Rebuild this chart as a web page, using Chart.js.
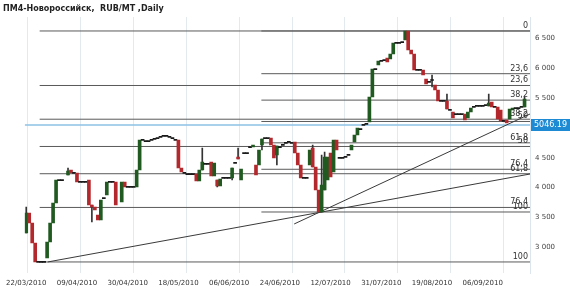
<!DOCTYPE html>
<html>
<head>
<meta charset="utf-8">
<script src="https://cdn.jsdelivr.net/npm/chart.js@4.4.1/dist/chart.umd.min.js"></script>
<style>
  html, body { margin: 0; padding: 0; background: #fff; }
  canvas { display: block; }
</style>
</head>
<body>
<canvas id="chart" width="570" height="293"></canvas>
<script>
const title = 'ПМ4-Новороссийск,  RUB/MT ,Daily';

// x axis: one slot per trading bar, date labels every 17 bars
const dateLabels = ['22/03/2010', '09/04/2010', '30/04/2010', '18/05/2010', '06/06/2010',
                    '24/06/2010', '12/07/2010', '31/07/2010', '19/08/2010', '06/09/2010'];
const dateIdx = [0, 17, 34, 51, 68, 85, 102, 119, 136, 153];
const yTicks = [3000, 3500, 4000, 4500, 5000, 5500, 6000, 6500];

// candles (null = no bar)
const opens = [
  3245, 3578, 3412, 3078, 2762, 2762, 2762, 2828, 3095, 3412,
  3745, 4128, 4128, null, 4212, 4295, 4245, 4245, 4095, 4095,
  4095, 4128, 3712, 3678, 3545, 3462, 3828, 3878, 4095, 4095,
  4095, null, 3762, 4095, 4012, 4012, 4012, 4012, 4295, 4795,
  4778, 4778, 4795, 4812, 4828, 4845, 4862, 4862, 4845, 4828,
  4795, 4795, 4328, 4245, 4228, 4228, 4228, 4228, 4112, 4295,
  4395, 4395, 4428, 4195, 4128, 4028, 4162, 4162, 4162, 4162,
  4412, 4512, 4128, 4578, 4578, 4678, 4678, 4378, 4378, 4712,
  4828, 4828, 4828, 4712, 4545, 4678, 4712, 4745, 4762, 4745,
  4762, 4578, 4378, 4162, 4162, 4378, 4662, 4345, 3962, 3595,
  3962, 4128, 4578, 4262, 4795, 4495, 4495, 4512, 4545, 4628,
  4762, 4878, 4978, 5045, 5062, 5095, 5512, 5978, 6045, 6112,
  6128, 6162, 6145, 6228, 6412, 6412, 6428, 6462, 6612, 6295,
  6228, 5962, 5962, 5962, 5812, 5762, 5795, 5712, 5628, 5445,
  5445, 5445, 5295, 5262, 5228, 5228, 5228, 5228, 5162, 5262,
  5345, 5362, 5362, 5362, 5378, 5362, 5428, 5345, 5345, 5295,
  5112, 5128, 5145, 5295, 5328, 5328, 5345, 5345
];
const closes = [
  3578, 3412, 3078, 2762, 2762, 2762, 2762, 3095, 3412, 3745,
  4128, 4128, 4128, null, 4278, 4245, 4245, 4095, 4095, 4095,
  4095, 3712, 3678, 3628, 3462, 3795, 3828, 4095, 4095, 4095,
  3712, null, 4095, 4012, 4012, 4012, 4012, 4295, 4795, 4795,
  4778, 4778, 4795, 4812, 4828, 4845, 4862, 4862, 4845, 4828,
  4795, 4328, 4262, 4245, 4228, 4228, 4228, 4112, 4295, 4428,
  4395, 4395, 4195, 4412, 4028, 4145, 4162, 4162, 4162, 4328,
  4412, 4478, 4312, 4578, 4578, 4678, 4712, 4212, 4628, 4812,
  4828, 4828, 4712, 4495, 4695, 4678, 4712, 4745, 4762, 4745,
  4578, 4378, 4162, 4162, 4162, 4628, 4345, 3962, 3595, 4045,
  4512, 4512, 4178, 4795, 4628, 4495, 4495, 4512, 4545, 4712,
  4878, 4995, 4978, 5045, 5062, 5512, 5978, 5978, 6112, 6112,
  6128, 6095, 6228, 6412, 6412, 6412, 6428, 6612, 6295, 6228,
  5962, 5962, 5962, 5878, 5728, 5762, 5795, 5628, 5445, 5445,
  5445, 5312, 5295, 5162, 5228, 5228, 5228, 5128, 5262, 5328,
  5345, 5362, 5362, 5362, 5378, 5412, 5345, 5345, 5145, 5112,
  5112, 5078, 5312, 5328, 5328, 5328, 5345, 5478
];
// bars with visible shadows
const wickIdx  = [0, 14, 22, 59, 64, 69, 71, 79, 84, 96, 99, 100, 136, 141, 155, 167];
const wickHigh = [3678, 4328, 3712, 4662, 4128, 4328, 4662, 4812, 4695, 4712, 4545, 4595, 5878, 5562, 5562, 5512];
const wickLow  = [3245, 4212, 3428, 4295, 4012, 4128, 4478, 4628, 4378, 4345, 3595, 3962, 5678, 5312, 5362, 5345];

// fibonacci retracements (two swings to the same top)
const fibRatios = [0, 0.236, 0.382, 0.5, 0.618, 0.764, 1];
const fibNames = ['0', '23,6', '38,2', '50', '61,8', '76,4', '100'];
const fibHigh = 6612;
const fibLows = [2762, 3595];
const fibStarts = [4.5, 78.8];

// trend lines [bar, price]
const trend1 = [[7.2, 2762], [168.83, 4228]];
const trend2 = [[89.8, 3395], [168.83, 5228]];

const lastPrice = 5046.19;

const xMin = -0.5, xMax = 168.83;
const gridIdx = [0.5, 18.2, 35.9, 53.7, 71.4, 89.1, 106.8, 124.5, 142.3, 160.0];

const green = '#215a21';
const red = '#b3282d';

const bodies = [];
const bodyColors = [];
opens.forEach((o, i) => {
    const c = closes[i];
    if (o === null) return;
    if (o === c) {
        bodies.push({ x: i, y: [o - 9, o + 9] });
        bodyColors.push('#1a1a1a');
    } else {
        bodies.push({ x: i, y: [Math.min(o, c), Math.max(o, c)] });
        bodyColors.push(c > o ? green : red);
    }
});
const wicks = wickIdx.map((i, k) => ({ x: i, y: [wickLow[k], wickHigh[k]] }));

const fibLevel = (low, r) => fibHigh - r * (fibHigh - low);

const datasets = [];
datasets.push({
    type: 'line',
    data: [{ x: xMin, y: lastPrice }, { x: xMax, y: lastPrice }],
    borderColor: '#8cc2e6', borderWidth: 1.5, pointRadius: 0, order: 5
});
fibLows.forEach((low, s) => {
    fibRatios.forEach(r => {
        const v = fibLevel(low, r);
        datasets.push({
            type: 'line',
            data: [{ x: fibStarts[s], y: v }, { x: xMax, y: v }],
            borderColor: '#5a5a5a', borderWidth: 1, pointRadius: 0, order: 4
        });
    });
});
[trend1, trend2].forEach(t => {
    datasets.push({
        type: 'line',
        data: t.map(p => ({ x: p[0], y: p[1] })),
        borderColor: '#3a3a3a', borderWidth: 1, pointRadius: 0, order: 3
    });
});
datasets.push({
    type: 'bar', data: wicks, backgroundColor: '#333', barThickness: 1,
    grouped: false, order: 2
});
datasets.push({
    type: 'bar', data: bodies, backgroundColor: bodyColors, barThickness: 3,
    grouped: false, order: 1
});

const overlay = {
    id: 'overlay',
    afterDatasetsDraw(chart) {
        const { ctx, chartArea } = chart;
        const y = chart.scales.y;
        ctx.save();
        ctx.font = '8px "DejaVu Sans"';
        ctx.fillStyle = '#333';
        ctx.textAlign = 'right';
        ctx.textBaseline = 'bottom';
        const drawn = {};
        fibLows.forEach(low => {
            fibRatios.forEach((r, k) => {
                const py = Math.round(y.getPixelForValue(fibLevel(low, r)));
                if (drawn[py]) return; // both swings share the top level
                drawn[py] = true;
                ctx.fillText(fibNames[k], chartArea.right - 2, py - 1);
            });
        });
        // last price tag
        const py = y.getPixelForValue(lastPrice);
        ctx.fillStyle = '#1e8ad4';
        ctx.fillRect(chartArea.right + 1, Math.round(py) - 6, 39, 12);
        ctx.fillStyle = '#fff';
        ctx.textAlign = 'center';
        ctx.textBaseline = 'middle';
        ctx.fillText(lastPrice.toFixed(2), chartArea.right + 20.5, Math.round(py));
        // title
        ctx.font = 'bold 8px "DejaVu Sans"';
        ctx.fillStyle = '#222';
        ctx.textAlign = 'left';
        ctx.fillText(title, 3, 9);
        ctx.restore();
    }
};

Chart.defaults.font.family = '"DejaVu Sans", Verdana, sans-serif';

new Chart(document.getElementById('chart'), {
    type: 'bar',
    data: { datasets: datasets },
    options: {
        responsive: false,
        animation: false,
        devicePixelRatio: 1,
        layout: { padding: { left: 22, top: 17, right: 0, bottom: 0 } },
        plugins: { legend: { display: false }, tooltip: { enabled: false }, title: { display: false } },
        scales: {
            x: {
                type: 'linear', position: 'bottom', min: xMin, max: xMax, offset: false,
                grid: { display: false, drawTicks: false, offset: false },
                border: { display: false },
                afterBuildTicks: s => { s.ticks = dateIdx.map(v => ({ value: v })); },
                afterFit: s => { s.height = 20; },
                ticks: {
                    autoSkip: false, maxRotation: 0, padding: 6,
                    font: { size: 7 }, color: '#333',
                    callback: (v, i) => dateLabels[i]
                }
            },
            xg: {
                type: 'linear', position: 'bottom', min: xMin, max: xMax, offset: false,
                grid: { color: '#e2eaef', drawTicks: false, offset: false },
                border: { display: false },
                afterBuildTicks: s => { s.ticks = gridIdx.map(v => ({ value: v })); },
                afterFit: s => { s.height = 0; },
                ticks: { display: false }
            },
            y: {
                position: 'right', min: 2578, max: 6845, beginAtZero: false,
                grid: { display: false, drawTicks: false },
                border: { display: true, color: '#dde6ec' },
                afterBuildTicks: s => { s.ticks = yTicks.map(v => ({ value: v })); },
                afterFit: s => { s.width = 40; },
                ticks: {
                    padding: 5, font: { size: 7 }, color: '#444',
                    callback: v => String(v).replace(/\B(?=(\d{3})+$)/, ' ')
                }
            }
        }
    },
    plugins: [overlay]
});
</script>
</body>
</html>
